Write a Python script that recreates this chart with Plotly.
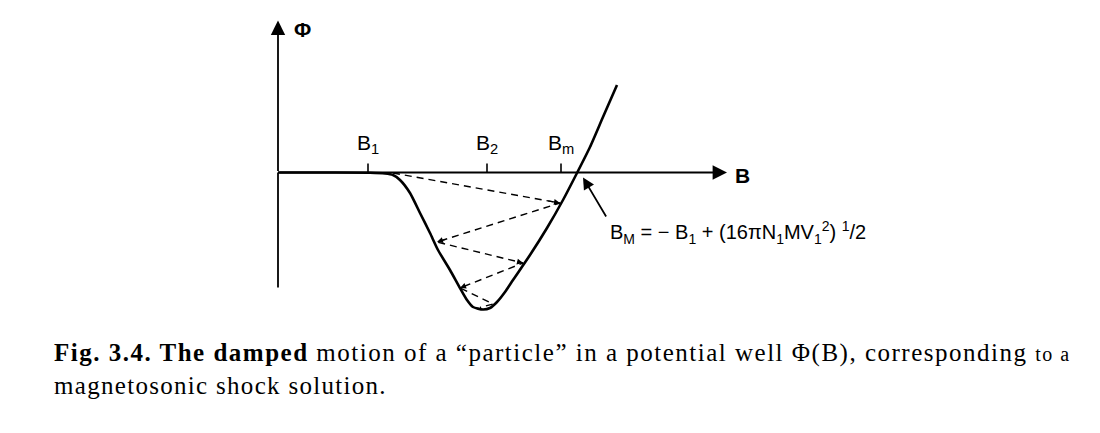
import plotly.graph_objects as go

# Potential well Phi(B) (arbitrary units, axis origin at B=0, Phi=0)
B_curve = [0.0, 0.52, 0.92, 1.07, 1.15, 1.22, 1.32, 1.42, 1.52, 1.60, 1.72, 1.82, 1.89,
           1.95, 2.05, 2.12, 2.19, 2.27, 2.35, 2.52, 2.69, 2.85, 2.99, 3.12, 3.25, 3.39]
Phi_curve = [0.0, 0.0, -0.002, -0.01, -0.025, -0.075, -0.205, -0.405, -0.605, -0.775,
             -0.975, -1.155, -1.275, -1.345, -1.37, -1.355, -1.295, -1.195, -1.075,
             -0.825, -0.555, -0.275, -0.005, 0.255, 0.555, 0.875]

# Damped oscillation path (dashed)
B_path = [1.15, 2.82, 1.59, 2.45, 1.82, 2.15, 2.02]
Phi_path = [-0.005, -0.305, -0.695, -0.905, -1.155, -1.315, -1.35]

# Tick marks on the B axis
tick_B = [0.90, 2.09, 2.83]
tick_labels = ["B<sub>1</sub>", "B<sub>2</sub>", "B<sub>m</sub>"]

B_axis_end = 4.49
Phi_axis_top = 1.52
Phi_axis_bottom = -1.15

fig = go.Figure()

fig.add_trace(go.Scatter(x=B_curve, y=Phi_curve, mode="lines",
                         line=dict(color="black", width=2.6, shape="spline", smoothing=0.6),
                         hoverinfo="skip", showlegend=False))
fig.add_trace(go.Scatter(x=B_path, y=Phi_path, mode="lines",
                         line=dict(color="black", width=1.4, dash="7px,5px"),
                         hoverinfo="skip", showlegend=False))

# y-axis line (non-arrow part)
fig.add_trace(go.Scatter(x=[0, 0], y=[Phi_axis_bottom, 0], mode="lines",
                         line=dict(color="black", width=1.8),
                         hoverinfo="skip", showlegend=False))

# tick marks
for tb in tick_B:
    fig.add_trace(go.Scatter(x=[tb, tb], y=[0, 0.09], mode="lines",
                             line=dict(color="black", width=1.6),
                             hoverinfo="skip", showlegend=False))

ann = []
# axis arrows
ann.append(dict(x=0, y=Phi_axis_top, ax=0, ay=0, xref="x", yref="y", axref="x", ayref="y",
                showarrow=True, arrowhead=2, arrowsize=1.6, arrowwidth=1.8, arrowcolor="black", text=""))
ann.append(dict(x=B_axis_end, y=0, ax=0, ay=0, xref="x", yref="y", axref="x", ayref="y",
                showarrow=True, arrowhead=2, arrowsize=1.6, arrowwidth=1.8, arrowcolor="black", text=""))
# B_M pointer arrow
ann.append(dict(x=3.05, y=-0.05, ax=3.29, ay=-0.455, xref="x", yref="y", axref="x", ayref="y",
                showarrow=True, arrowhead=2, arrowsize=1.3, arrowwidth=1.8, arrowcolor="black", text=""))
# small arrowheads on dashed path
for i in range(1, len(B_path) - 1):
    ann.append(dict(x=B_path[i], y=Phi_path[i],
                    ax=B_path[i] - (B_path[i] - B_path[i - 1]) * 0.08,
                    ay=Phi_path[i] - (Phi_path[i] - Phi_path[i - 1]) * 0.08,
                    xref="x", yref="y", axref="x", ayref="y",
                    showarrow=True, arrowhead=2, arrowsize=1.0, arrowwidth=1.2,
                    arrowcolor="black", text=""))

sans = "Liberation Sans, Arial, sans-serif"
for tb, tl in zip(tick_B, tick_labels):
    ann.append(dict(x=tb, y=0.29, xref="x", yref="y", text=tl, showarrow=False,
                    font=dict(family=sans, size=21, color="black")))
ann.append(dict(x=4.55, y=-0.03, xref="x", yref="y", text="<b>B</b>", showarrow=False,
                xanchor="left", font=dict(family=sans, size=21, color="black")))
ann.append(dict(x=0.14, y=1.43, xref="x", yref="y", text="<b>Φ</b>", showarrow=False,
                xanchor="left", font=dict(family="Liberation Sans, Arial, sans-serif", size=21, color="black")))
ann.append(dict(x=3.30, y=-0.60, xref="x", yref="y",
                text="B<sub>M</sub> = − B<sub>1</sub> + (16πN<sub>1</sub>MV<sub>1</sub><sup>2</sup>) <sup>1</sup>/2",
                showarrow=False, xanchor="left",
                font=dict(family=sans, size=20, color="black")))

# page offset of the plot inside the browser window (default body margin)
off = 8
serif = "Liberation Serif, Times New Roman, serif"
caption = ("<span style='letter-spacing:1.5px'><b>Fig. 3.4. The damped</b> motion of a “particle” in a "
           "potential well Φ(B), corresponding <span style='font-size:20px'>to a</span></span><br>"
           "<span style='letter-spacing:1.3px'>magnetosonic shock solution.</span>")
ann.append(dict(x=(52 - off) / 1100, y=1 - (369 - off) / 433, xref="paper", yref="paper",
                xanchor="left", yanchor="middle", align="left",
                text=caption, showarrow=False,
                font=dict(family=serif, size=25, color="black")))

fig.update_layout(
    width=1100, height=433,
    margin=dict(l=0, r=0, t=0, b=0),
    paper_bgcolor="white", plot_bgcolor="white",
    xaxis=dict(range=[-2.70, 8.30], visible=False, fixedrange=True),
    yaxis=dict(range=[-2.685, 1.645], visible=False, fixedrange=True),
    annotations=ann,
    showlegend=False,
)

fig.write_html("out.html")
